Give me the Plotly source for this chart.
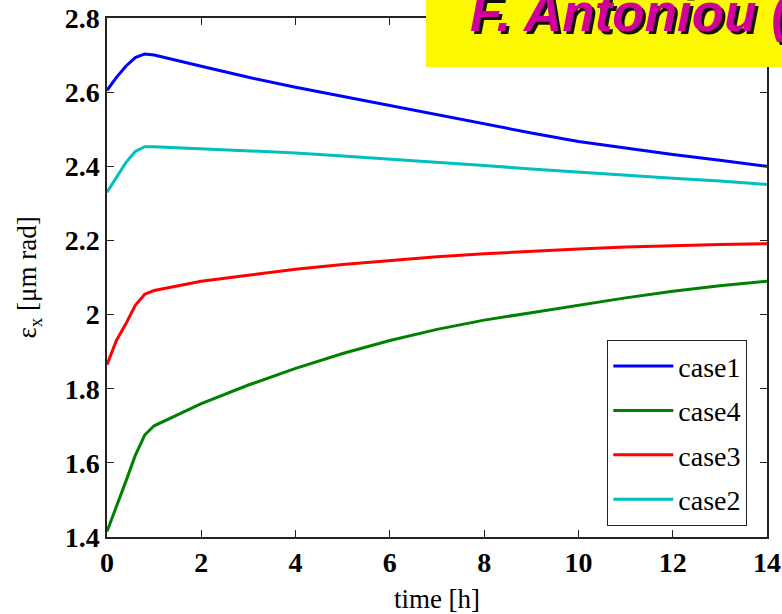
import plotly.graph_objects as go

# ---- data ----
t = [0, 0.2, 0.4, 0.6, 0.8, 1.0, 2, 3, 4, 5, 6, 7, 8, 9, 10, 11, 12, 13, 14]
case1 = [2.605, 2.640, 2.670, 2.693, 2.703, 2.700, 2.670, 2.640, 2.613, 2.588, 2.563,
         2.538, 2.513, 2.490, 2.467, 2.449, 2.432, 2.416, 2.400]
case4 = [1.415, 1.480, 1.550, 1.620, 1.675, 1.700, 1.760, 1.810, 1.855, 1.895, 1.930,
         1.960, 1.985, 2.005, 2.025, 2.045, 2.063, 2.078, 2.090]
case3 = [1.865, 1.930, 1.975, 2.025, 2.055, 2.065, 2.090, 2.107, 2.122, 2.135, 2.146,
         2.156, 2.164, 2.171, 2.177, 2.182, 2.186, 2.189, 2.191]
case2 = [2.330, 2.370, 2.410, 2.440, 2.453, 2.453, 2.447, 2.442, 2.436, 2.428, 2.420,
         2.411, 2.402, 2.393, 2.384, 2.376, 2.368, 2.360, 2.351]

names = ["case1", "case4", "case3", "case2"]
series = [case1, case4, case3, case2]
colors = ["#0000FF", "#008000", "#FF0000", "#00BFBF"]

x_ticks = [0, 2, 4, 6, 8, 10, 12, 14]
y_ticks = [1.4, 1.6, 1.8, 2.0, 2.2, 2.4, 2.6, 2.8]
y_labels = ["1.4", "1.6", "1.8", "2", "2.2", "2.4", "2.6", "2.8"]

# ---- layout geometry ----
W, H = 782, 614
L, R, T, B = 107, 15, 18, 77
PW, PH = W - L - R, H - T - B


def px(xp):
    return (xp - L) / PW


def py(yp):
    return (H - B - yp) / PH


fig = go.Figure()
for i, (n, s, c) in enumerate(zip(names, series, colors)):
    fig.add_trace(go.Scatter(x=t, y=s, name=n, mode="lines",
                             line=dict(color=c, width=3),
                             legendgroup=f"g{i}"))

serif = "Liberation Serif"
axis_common = dict(showgrid=False, zeroline=False, showline=True, linecolor="#222",
                   linewidth=1.5, mirror="ticks", ticks="inside", ticklen=7,
                   tickwidth=1.3, tickcolor="#222")

fig.update_layout(
    width=W, height=H,
    margin=dict(l=L, r=R, t=T, b=B, autoexpand=False),
    paper_bgcolor="white", plot_bgcolor="white",
    xaxis=dict(range=[0, 14], tickvals=x_ticks, ticktext=[str(v) for v in x_ticks],
               tickfont=dict(family=serif, size=28, color="black", weight="bold"),
               title=dict(text="time [h]", font=dict(family=serif, size=27, color="black"),
                          standoff=16),
               **axis_common),
    yaxis=dict(range=[1.4, 2.8], tickvals=y_ticks, ticktext=y_labels,
               tickfont=dict(family=serif, size=28, color="black", weight="bold"),
               title=dict(text="ε<sub>x</sub> [μm rad]",
                          font=dict(family=serif, size=27, color="black"), standoff=20),
               **axis_common),
    legend=dict(x=px(607), y=py(340), xanchor="left", yanchor="top",
                bgcolor="white", bordercolor="#222", borderwidth=1.3,
                font=dict(family=serif, size=28, color="black"),
                tracegroupgap=5, itemwidth=60, traceorder="grouped"),
    showlegend=True,
)

# yellow banner
fig.add_shape(type="rect", xref="paper", yref="paper",
              x0=px(426), x1=px(790), y0=py(67), y1=py(-5),
              fillcolor="#FBF800", line=dict(width=0), layer="above")
banner_font = dict(family="Liberation Sans", size=53, weight="bold", style="italic")
fig.add_annotation(xref="paper", yref="paper", x=px(471), y=py(16),
                   xanchor="left", yanchor="middle", text="F. Antoniou (",
                   showarrow=False, font=dict(color="#111", **banner_font))
fig.add_annotation(xref="paper", yref="paper", x=px(468), y=py(13),
                   xanchor="left", yanchor="middle", text="F. Antoniou (",
                   showarrow=False, font=dict(color="#D0009A", **banner_font))

fig.write_html("out.html")
